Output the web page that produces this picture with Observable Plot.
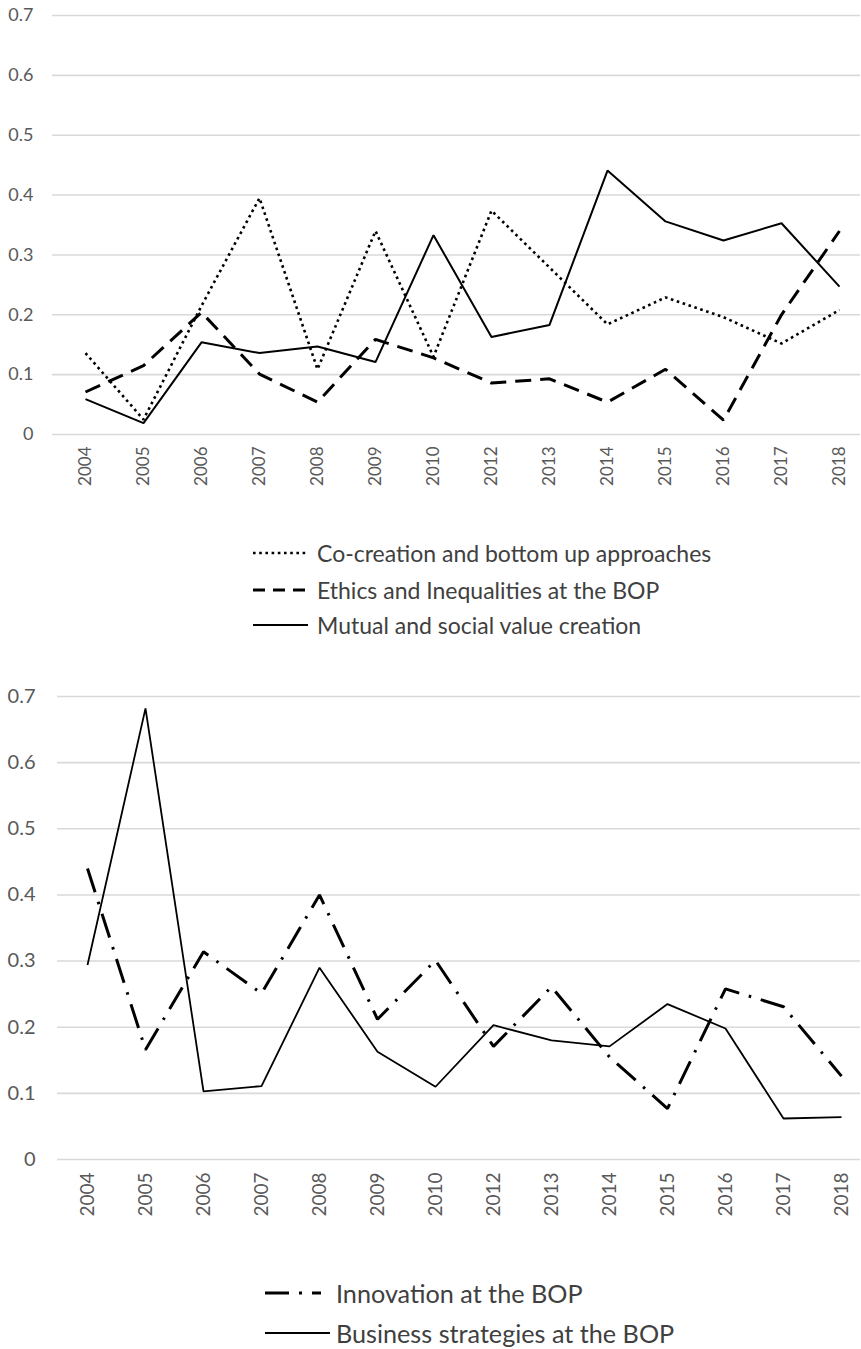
<!DOCTYPE html>
<html><head><meta charset="utf-8">
<script src="https://cdn.jsdelivr.net/npm/d3@7"></script>
<script src="https://cdn.jsdelivr.net/npm/@observablehq/plot@0.6"></script>
<style>
body{margin:0;background:#fff;width:861px;height:1349px;overflow:hidden;position:relative;font-family:Lato,sans-serif;}
.chart{position:absolute;left:0;}
.item{position:absolute;height:34px;display:flex;align-items:center;white-space:nowrap;color:#404040;}
.item svg{display:block;}
</style></head><body>
<div id="c1" class="chart" style="top:0px"></div>
<div id="c2" class="chart" style="top:660px"></div>
<div id="legends"></div>
<script>
const years = ["2004","2005","2006","2007","2008","2009","2010","2012","2013","2014","2015","2016","2017","2018"];
const yTicks = [0, 0.1, 0.2, 0.3, 0.4, 0.5, 0.6, 0.7];

// Top chart
const coCreation = [0.136, 0.025, 0.215, 0.395, 0.109, 0.340, 0.130, 0.374, 0.279, 0.184, 0.229, 0.196, 0.152, 0.208];
const ethics     = [0.071, 0.115, 0.204, 0.101, 0.054, 0.159, 0.128, 0.086, 0.093, 0.054, 0.109, 0.024, 0.200, 0.340];
const mutual     = [0.059, 0.019, 0.154, 0.136, 0.147, 0.121, 0.333, 0.163, 0.183, 0.441, 0.356, 0.324, 0.353, 0.247];

// Bottom chart
const innovation = [0.440, 0.166, 0.314, 0.251, 0.400, 0.212, 0.301, 0.171, 0.261, 0.155, 0.077, 0.258, 0.231, 0.126];
const business   = [0.294, 0.682, 0.103, 0.111, 0.290, 0.163, 0.110, 0.203, 0.180, 0.171, 0.235, 0.198, 0.062, 0.064];

const topLabels = ["Co-creation and bottom up approaches", "Ethics and Inequalities at the BOP", "Mutual and social value creation"];
const bottomLabels = ["Innovation at the BOP", "Business strategies at the BOP"];

const styles = {
  dotted:  {strokeWidth: 2.6, strokeDasharray: "2.6,3.6", strokeLinecap: "butt"},
  dashed:  {strokeWidth: 3, strokeDasharray: "16,9", strokeLinecap: "butt"},
  solid:   {strokeWidth: 2, strokeDasharray: null, strokeLinecap: "butt"},
  dashdot: {strokeWidth: 3, strokeDasharray: "25,10,2.5,10", strokeLinecap: "butt"},
  solid2:  {strokeWidth: 1.8, strokeDasharray: null, strokeLinecap: "butt"}
};
const legendDash = {dotted: "2.6,3.6", dashed: "12,8", solid: null, dashdot: "24,10,3,10,9", solid2: null};

function rows(vals) { return years.map((year, i) => ({year, value: vals[i]})); }

function chart(o) {
  return Plot.plot({
    width: 861, height: o.height,
    marginLeft: o.left, marginRight: 1, marginTop: o.top, marginBottom: o.bottom,
    x: {type: "point", domain: years, range: o.xRange, padding: 0, label: null},
    y: {domain: [0, 0.7], label: null},
    style: {fontFamily: "Lato, sans-serif", color: "#595959", background: "white"},
    marks: [
      Plot.ruleY(yTicks, {stroke: "#d9d9d9", strokeWidth: 1.6}),
      Plot.axisY({ticks: yTicks, tickSize: 0, tickPadding: o.yPad, fontSize: o.yFont, label: null, tickFormat: d => d === 0 ? "0" : d.toFixed(1)}),
      Plot.axisX({tickRotate: -90, tickSize: 0, tickPadding: o.xPad, fontSize: o.xFont, label: null}),
      ...o.series.map(s => Plot.line(rows(s.values), {x: "year", y: "value", stroke: "#000", strokeLinejoin: "miter", ...styles[s.style]}))
    ]
  });
}

document.getElementById("c1").append(chart({
  height: 500, left: 52, top: 15, bottom: 66, xRange: [83, 841], yPad: 19, yFont: 18, xPad: 12, xFont: 17,
  series: [{values: coCreation, style: "dotted"}, {values: ethics, style: "dashed"}, {values: mutual, style: "solid"}]
}));
document.getElementById("c2").append(chart({
  height: 560, left: 57, top: 36, bottom: 61, xRange: [86, 841], yPad: 22, yFont: 20, xPad: 13, xFont: 19,
  series: [{values: innovation, style: "dashdot"}, {values: business, style: "solid2"}]
}));

function legendItem(x, yc, sampleW, gap, style, label, fontSize) {
  const d = document.createElement("div");
  d.className = "item";
  d.style.left = x + "px";
  d.style.top = (yc - 17) + "px";
  d.style.fontSize = fontSize + "px";
  const s = styles[style];
  const dash = legendDash[style];
  d.innerHTML = `<svg width="${sampleW}" height="10" style="margin-right:${gap}px"><line x1="0" x2="${sampleW}" y1="5" y2="5" stroke="#000" stroke-width="${s.strokeWidth}" ${dash ? `stroke-dasharray="${dash}"` : ""} stroke-linecap="butt"/></svg><span>${label}</span>`;
  document.getElementById("legends").append(d);
}
legendItem(253, 553, 55, 9, "dotted", topLabels[0], 23);
legendItem(253, 590, 55, 9, "dashed", topLabels[1], 23);
legendItem(253, 625, 55, 9, "solid", topLabels[2], 23);
legendItem(265, 1293, 65, 6, "dashdot", bottomLabels[0], 25.2);
legendItem(265, 1333, 65, 6, "solid2", bottomLabels[1], 25.2);
</script>
</body></html>
